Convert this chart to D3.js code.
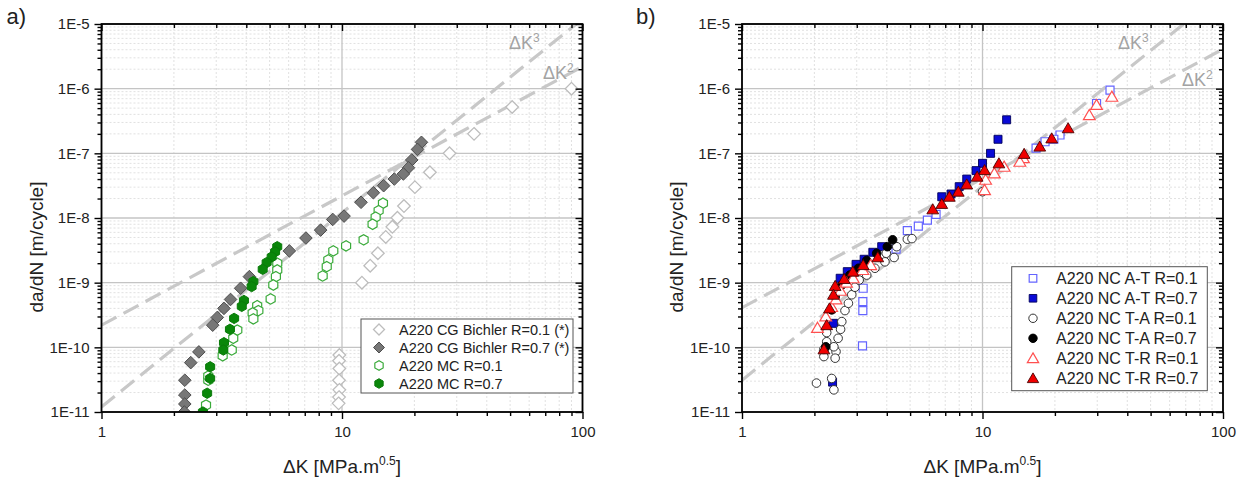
<!DOCTYPE html>
<html><head><meta charset="utf-8">
<script src="https://cdn.jsdelivr.net/npm/d3@7"></script>
<style>
body{margin:0;background:#fff}
svg{display:block}
text{font-family:"Liberation Sans",Arial,Helvetica,sans-serif}
</style>
</head><body>
<svg id="chart" width="1250" height="480"></svg>
<script>
// ---------- tick labels ----------
const X_TICKS = [1, 10, 100];
const X_TICK_LABELS = ["1", "10", "100"];
const Y_TICKS = [1e-5, 1e-6, 1e-7, 1e-8, 1e-9, 1e-10, 1e-11];
const Y_TICK_LABELS = ["1E-5", "1E-6", "1E-7", "1E-8", "1E-9", "1E-10", "1E-11"];

// ---------- panel a data : [ΔK, da/dN] ----------
const cgBichlerR01 = [[90,1.0e-6],[51,5.2e-7],[35.4,2.0e-7],[28,1.0e-7],[23.2,5.1e-8],[20.1,3.0e-8],[18.1,1.53e-8],[17.0,1.01e-8],[16.2,7.3e-9],[15.2,5.1e-9],[14.1,2.85e-9],[13.1,1.83e-9],[12.1,1.0e-9],[9.75,7.6e-11],[9.72,6.2e-11],[9.75,4.7e-11],[9.72,3.1e-11],[9.75,2.2e-11],[9.72,1.7e-11],[9.68,1.36e-11]];
const cgBichlerR07 = [[21.4,1.48e-7],[20.6,1.15e-7],[19.5,7.9e-8],[18.9,6.0e-8],[18.0,4.8e-8],[16.5,4.0e-8],[14.9,3.16e-8],[13.5,2.46e-8],[12.0,1.75e-8],[10.2,1.07e-8],[9.15,9.5e-9],[8.15,6.5e-9],[7.08,4.9e-9],[6.04,3.1e-9],[4.12,1.24e-9],[3.79,8.2e-10],[3.44,5.5e-10],[3.23,4.0e-10],[3.03,2.9e-10],[2.90,2.2e-10],[2.54,8.5e-11],[2.35,5.8e-11],[2.22,3.1e-11],[2.22,1.83e-11],[2.22,1.33e-11],[2.21,1.0e-11]];
const mcR01 = [[14.8,1.69e-8],[14.2,1.30e-8],[13.8,1.03e-8],[13.4,8.0e-9],[12.3,4.6e-9],[10.4,3.7e-9],[9.2,3.1e-9],[8.77,2.25e-9],[8.64,1.77e-9],[8.31,1.27e-9],[5.38,2.0e-9],[5.38,1.57e-9],[5.31,1.24e-9],[5.18,9.2e-10],[5.05,5.6e-10],[4.44,4.4e-10],[4.49,3.7e-10],[4.25,3.4e-10],[4.28,2.75e-10],[3.67,1.85e-10],[3.53,1.38e-10],[3.48,9.1e-11],[3.19,7.4e-11],[2.78,3.1e-11],[2.78,3.6e-11],[2.72,1.28e-11]];
const mcR07 = [[5.38,3.6e-9],[5.27,3.0e-9],[5.10,2.5e-9],[4.86,2.04e-9],[4.68,1.61e-9],[4.28,1.04e-9],[4.21,8.7e-10],[3.91,5.3e-10],[3.83,4.3e-10],[3.56,2.8e-10],[3.42,1.9e-10],[3.23,1.18e-10],[3.21,9.1e-11],[2.83,5.0e-11],[2.83,3.3e-11],[2.75,1.95e-11],[2.64,1.0e-11]];

// ---------- panel b data : [ΔK, da/dN] ----------
const atR01 = [[33.9,9.5e-7],[29.8,5.9e-7],[21.0,1.92e-7],[19.8,1.65e-7],[18.2,1.51e-7],[16.7,1.2e-7],[6.41,1.14e-8],[5.90,9.3e-9],[5.41,7.5e-9],[4.87,6.4e-9],[4.37,3.3e-9],[3.19,8.2e-10],[3.18,5.1e-10],[3.18,3.7e-10],[3.17,1.05e-10]];
const atR07 = [[12.6,3.3e-7],[11.6,1.65e-7],[10.8,1.0e-7],[10.0,7.0e-8],[9.4,5.4e-8],[8.6,4.0e-8],[8.0,3.05e-8],[7.4,2.35e-8],[6.77,2.13e-8],[3.81,3.6e-9],[3.50,2.95e-9],[3.22,2.3e-9],[2.98,1.92e-9],[2.74,1.48e-9],[2.56,1.17e-9],[2.40,2.35e-10],[2.38,2.9e-11]];
const taR01 = [[2.04,2.8e-11],[2.36,3.3e-11],[2.41,2.2e-11],[2.19,7.2e-11],[2.19,9.3e-11],[2.25,1.22e-10],[2.25,1.69e-10],[2.46,8.6e-11],[2.44,6.8e-11],[2.41,1.02e-10],[2.51,1.38e-10],[2.57,1.9e-10],[2.60,2.5e-10],[2.68,3.7e-10],[2.77,4.8e-10],[2.86,6.5e-10],[2.95,8.5e-10],[3.07,1.1e-9],[3.30,1.31e-9],[3.57,1.67e-9],[3.93,2.1e-9],[3.98,2.85e-9],[4.29,2.45e-9],[4.40,3.6e-9],[4.87,4.7e-9],[5.09,4.8e-9],[10.0,2.55e-8]];
const taR07 = [[4.23,4.6e-9],[4.02,3.6e-9],[3.63,2.85e-9],[3.30,2.2e-9],[3.05,1.67e-9],[2.81,1.31e-9],[2.60,9.2e-10],[2.44,6.1e-10],[2.36,3.8e-10],[2.23,1.02e-10]];
const trR01 = [[34.5,7.5e-7],[29.8,5.6e-7],[27.8,3.9e-7],[14.8,8.4e-8],[14.3,7.4e-8],[12.3,6.2e-8],[11.2,4.9e-8],[10.3,3.9e-8],[10.2,2.7e-8],[2.06,2.0e-10],[2.23,3.0e-10],[2.36,4.2e-10],[2.46,5.5e-10],[2.57,7.5e-10],[2.72,1.0e-9],[2.90,1.17e-9],[3.18,1.57e-9],[3.43,1.87e-9]];
const trR07 = [[22.7,2.44e-7],[19.4,1.7e-7],[17.3,1.27e-7],[14.9,9.8e-8],[11.7,7.0e-8],[10.2,5.5e-8],[9.5,4.35e-8],[8.6,3.3e-8],[7.93,2.55e-8],[7.28,2.13e-8],[6.77,1.65e-8],[6.21,1.36e-8],[3.67,2.47e-9],[3.19,1.87e-9],[2.89,1.48e-9],[2.66,1.14e-9],[2.44,8.9e-10],[2.40,6.5e-10],[2.31,4.0e-10],[2.25,2.2e-10],[2.19,9.3e-11]];

// ---------- reference power-law lines: coefficient C in C·ΔK^n ----------
const refA = [{n:2, C:2.2e-10, label:"2"}, {n:3, C:1.2e-11, label:"3"}];
const refB = [{n:2, C:4.1e-10, label:"2"}, {n:3, C:3.1e-11, label:"3"}];

// ---------- legends ----------
const legendA = ["A220 CG Bichler R=0.1 (*)", "A220 CG Bichler R=0.7 (*)", "A220 MC R=0.1", "A220 MC R=0.7"];
const legendB = ["A220 NC A-T R=0.1", "A220 NC A-T R=0.7", "A220 NC T-A R=0.1", "A220 NC T-A R=0.7", "A220 NC T-R R=0.1", "A220 NC T-R R=0.7"];

// ---------- symbol paths ----------
function symPath(type, r) {
  if (type === "diamond") return `M0,${-r}L${r},0L0,${r}L${-r},0Z`;
  if (type === "square") return `M${-r},${-r}H${r}V${r}H${-r}Z`;
  if (type === "circle") return `M${r},0A${r},${r} 0 1,1 ${-r},0A${r},${r} 0 1,1 ${r},0Z`;
  if (type === "triangle") { const h = r*1.0; return `M0,${-h}L${r*1.05},${h*0.8}L${-r*1.05},${h*0.8}Z`; }
  if (type === "hexagon") {
    let p = "";
    for (let k = 0; k < 6; k++) {
      const a = Math.PI/2 + k*Math.PI/3;
      p += (k ? "L" : "M") + (r*Math.cos(a)).toFixed(2) + "," + (r*Math.sin(a)).toFixed(2);
    }
    return p + "Z";
  }
}

const svg = d3.select("#chart");

function decadeMinors(lo, hi) {
  const out = [];
  for (let e = lo; e < hi; e++) for (let m = 2; m <= 9; m++) out.push(m * Math.pow(10, e));
  return out;
}

function drawPanel(cfg) {
  const g = svg.append("g");
  const x = d3.scaleLog().domain([1, 100]).range([cfg.left, cfg.right]);
  const y = d3.scaleLog().domain([1e-11, 1e-5]).range([cfg.bottom, cfg.top]);
  const xMinor = decadeMinors(0, 2);
  const yMinor = decadeMinors(-11, -5);

  // minor grid
  g.append("g").selectAll("line").data(xMinor).join("line")
    .attr("x1", d => x(d)).attr("x2", d => x(d)).attr("y1", cfg.top).attr("y2", cfg.bottom)
    .attr("stroke", "#d9d9d9").attr("stroke-width", 0.8).attr("stroke-dasharray", "2,2");
  g.append("g").selectAll("line").data(yMinor).join("line")
    .attr("y1", d => y(d)).attr("y2", d => y(d)).attr("x1", cfg.left).attr("x2", cfg.right)
    .attr("stroke", "#d9d9d9").attr("stroke-width", 0.8).attr("stroke-dasharray", "2,2");
  // major grid
  g.append("g").selectAll("line").data(X_TICKS).join("line")
    .attr("x1", d => x(d)).attr("x2", d => x(d)).attr("y1", cfg.top).attr("y2", cfg.bottom)
    .attr("stroke", "#c4c4c4").attr("stroke-width", 1.3);
  g.append("g").selectAll("line").data(Y_TICKS).join("line")
    .attr("y1", d => y(d)).attr("y2", d => y(d)).attr("x1", cfg.left).attr("x2", cfg.right)
    .attr("stroke", "#c4c4c4").attr("stroke-width", 1.3);

  const clipId = "clip" + cfg.id;
  g.append("clipPath").attr("id", clipId).append("rect")
    .attr("x", cfg.left).attr("y", cfg.top).attr("width", cfg.right - cfg.left).attr("height", cfg.bottom - cfg.top);
  const plot = g.append("g").attr("clip-path", `url(#${clipId})`);

  // reference lines
  const line = d3.line().x(d => x(d[0])).y(d => y(d[1]));
  cfg.refs.forEach(r => {
    plot.append("path").datum([1, 100].map(k => [k, r.C * Math.pow(k, r.n)]))
      .attr("d", line).attr("fill", "none").attr("stroke", "#c8c8c8")
      .attr("stroke-width", 3.2).attr("stroke-dasharray", "17,8");
  });

  // series
  cfg.series.forEach(s => {
    plot.append("g").selectAll("path").data(s.data).join("path")
      .attr("transform", d => `translate(${x(d[0])},${y(d[1])})`)
      .attr("d", symPath(s.shape, s.r))
      .attr("fill", s.fill).attr("stroke", s.stroke).attr("stroke-width", s.sw);
  });

  // axes
  const styleAxis = sel => { sel.select(".domain").remove(); sel.selectAll("line").attr("stroke", "#000").attr("stroke-width", 1.4); };
  g.append("g").attr("transform", `translate(0,${cfg.bottom})`)
    .call(d3.axisBottom(x).tickValues(X_TICKS).tickFormat((d, i) => X_TICK_LABELS[i]).tickSize(7).tickPadding(7).tickSizeOuter(0))
    .call(styleAxis).call(s => s.selectAll("text").attr("font-size", 15).attr("fill", "#222"));
  g.append("g").attr("transform", `translate(0,${cfg.bottom})`)
    .call(d3.axisBottom(x).tickValues(xMinor).tickFormat("").tickSize(4).tickSizeOuter(0)).call(styleAxis);
  g.append("g").attr("transform", `translate(0,${cfg.top})`)
    .call(d3.axisTop(x).tickValues(X_TICKS).tickFormat("").tickSize(-7).tickSizeOuter(0)).call(styleAxis);
  g.append("g").attr("transform", `translate(0,${cfg.top})`)
    .call(d3.axisTop(x).tickValues(xMinor).tickFormat("").tickSize(-4).tickSizeOuter(0)).call(styleAxis);
  g.append("g").attr("transform", `translate(${cfg.left},0)`)
    .call(d3.axisLeft(y).tickValues(Y_TICKS).tickFormat((d, i) => Y_TICK_LABELS[i]).tickSize(7).tickPadding(5).tickSizeOuter(0))
    .call(styleAxis).call(s => s.selectAll("text").attr("font-size", 15).attr("fill", "#222"));
  g.append("g").attr("transform", `translate(${cfg.left},0)`)
    .call(d3.axisLeft(y).tickValues(yMinor).tickFormat("").tickSize(4).tickSizeOuter(0)).call(styleAxis);
  g.append("g").attr("transform", `translate(${cfg.right},0)`)
    .call(d3.axisRight(y).tickValues(Y_TICKS).tickFormat("").tickSize(-7).tickSizeOuter(0)).call(styleAxis);
  g.append("g").attr("transform", `translate(${cfg.right},0)`)
    .call(d3.axisRight(y).tickValues(yMinor).tickFormat("").tickSize(-4).tickSizeOuter(0)).call(styleAxis);
  // frame
  g.append("rect").attr("x", cfg.left).attr("y", cfg.top)
    .attr("width", cfg.right - cfg.left).attr("height", cfg.bottom - cfg.top)
    .attr("fill", "none").attr("stroke", "#000").attr("stroke-width", 1.8);

  // ΔK^n labels
  cfg.refLabels.forEach(l => {
    const t = g.append("text").attr("x", l.x).attr("y", l.y).attr("font-size", 18).attr("fill", "#a3a3a3");
    t.append("tspan").text("ΔK");
    t.append("tspan").attr("dy", -7).attr("font-size", 12).text(l.txt);
  });

  // axis titles
  const xt = g.append("text").attr("x", (cfg.left + cfg.right) / 2).attr("y", 473)
    .attr("text-anchor", "middle").attr("font-size", 19).attr("fill", "#222");
  xt.append("tspan").text("ΔK [MPa.m");
  xt.append("tspan").attr("dy", -8).attr("font-size", 12).text("0.5");
  xt.append("tspan").attr("dy", 8).text("]");
  g.append("text").attr("transform", `translate(${cfg.left - 59},247) rotate(-90)`)
    .attr("text-anchor", "middle").attr("font-size", 19).attr("fill", "#222").text("da/dN [m/cycle]");

  // panel label
  g.append("text").attr("x", cfg.left - cfg.panelDx).attr("y", 24).attr("font-size", 22).attr("fill", "#222").text(cfg.panel);

  // legend
  const L = cfg.legend;
  g.append("rect").attr("x", L.x).attr("y", L.y).attr("width", L.w).attr("height", L.h)
    .attr("fill", "#fff").attr("stroke", "#555").attr("stroke-width", 1);
  L.names.forEach((name, i) => {
    const s = cfg.series[i];
    const cy = L.y + L.first + i * L.step;
    g.append("path").attr("transform", `translate(${L.symX},${cy})`)
      .attr("d", symPath(s.shape, L.symR[i])).attr("fill", s.fill).attr("stroke", s.stroke).attr("stroke-width", s.sw);
    g.append("text").attr("x", L.textX).attr("y", cy).attr("dy", "0.36em")
      .attr("font-size", L.fs).attr("fill", "#222").text(name);
  });
}

drawPanel({
  id: "a", panel: "a)", panelDx: 95, left: 101.5, right: 582.5, top: 24, bottom: 412,
  refs: refA,
  refLabels: [{x: 509, y: 49, txt: "3"}, {x: 543, y: 79, txt: "2"}],
  series: [
    {data: cgBichlerR01, shape: "diamond", r: 6.3, fill: "#fff", stroke: "#bdbdbd", sw: 1.3},
    {data: cgBichlerR07, shape: "diamond", r: 6.3, fill: "#777", stroke: "#4d4d4d", sw: 1},
    {data: mcR01, shape: "hexagon", r: 5.2, fill: "#fff", stroke: "#3aaa3a", sw: 1.2},
    {data: mcR07, shape: "hexagon", r: 5.2, fill: "#0a870a", stroke: "#0a7a0a", sw: 1}
  ],
  legend: {x: 361, y: 319, w: 212, h: 74, first: 10.5, step: 18, symX: 379, symR: [5.5, 5.5, 4.8, 4.8], textX: 399, fs: 14.5, names: legendA}
});

drawPanel({
  id: "b", panel: "b)", panelDx: 106, left: 742, right: 1223, top: 24, bottom: 412,
  refs: refB,
  refLabels: [{x: 1118, y: 49, txt: "3"}, {x: 1182, y: 86, txt: "2"}],
  series: [
    {data: atR01, shape: "square", r: 4, fill: "#fff", stroke: "#6464ff", sw: 1.2},
    {data: atR07, shape: "square", r: 4, fill: "#0a0ad6", stroke: "#00005a", sw: 0.9},
    {data: taR01, shape: "circle", r: 4.3, fill: "#fff", stroke: "#333", sw: 1},
    {data: taR07, shape: "circle", r: 4.3, fill: "#000", stroke: "#000", sw: 1},
    {data: trR01, shape: "triangle", r: 5.6, fill: "#fff", stroke: "#ff5050", sw: 1.2},
    {data: trR07, shape: "triangle", r: 5.6, fill: "#f00000", stroke: "#4a0000", sw: 0.9}
  ],
  legend: {x: 1011.7, y: 266.7, w: 195.6, h: 124, first: 11.6, step: 20, symX: 1033, symR: [3.8, 3.8, 4.2, 4.2, 5.4, 5.4], textX: 1056, fs: 16, names: legendB}
});
</script>
</body></html>
